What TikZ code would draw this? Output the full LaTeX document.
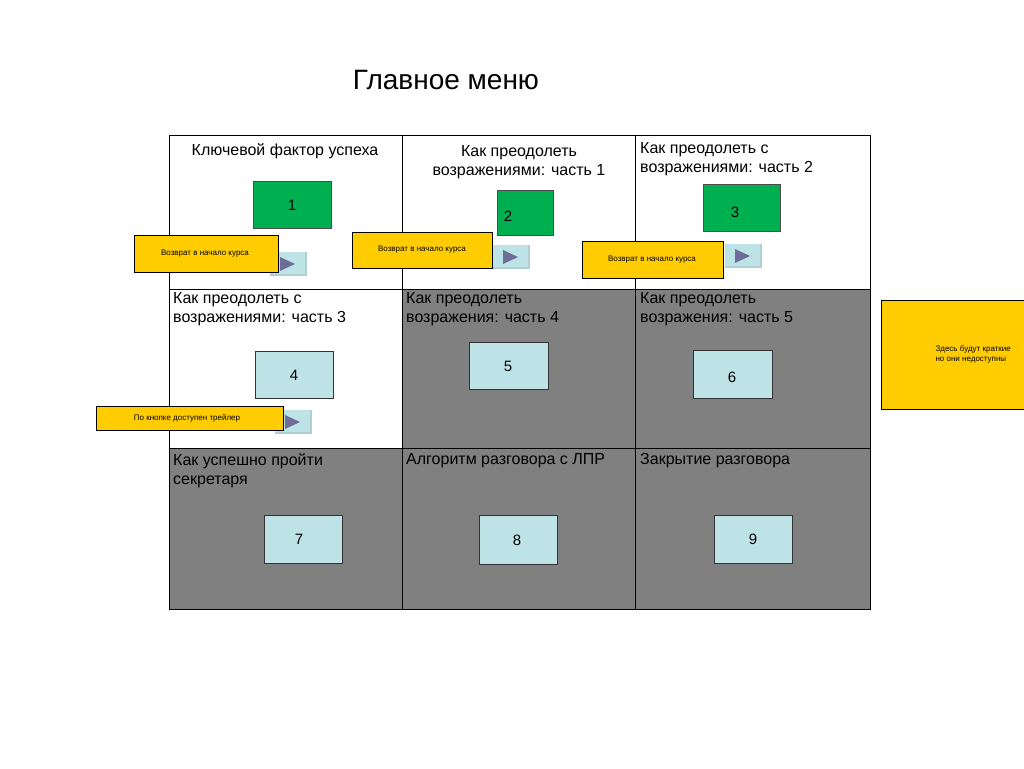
\documentclass[tikz,border=0pt]{standalone}
\usepackage{fontspec}
\setmainfont{Liberation Sans}
\begin{document}
\begin{tikzpicture}[x=1pt,y=-1pt,
  grn/.style={draw=black!70,fill=green!65!black!90,line width=0.6pt},
  blu/.style={draw=black!80,fill=cyan!15!blue!10!white,line width=0.6pt},
  ylw/.style={draw=black,fill=yellow!80!orange,line width=0.7pt},
  ttl/.style={font=\fontsize{16}{19}\selectfont,align=left,anchor=north west,inner sep=0},
  num/.style={font=\fontsize{15}{18}\selectfont},
  sml/.style={font=\fontsize{8}{10}\selectfont}]
\useasboundingbox (0,0) rectangle (1024,768);
\definecolor{gr}{HTML}{808080}
\definecolor{bl}{HTML}{BDE3E6}
\definecolor{gn}{HTML}{00B050}
\definecolor{yl}{HTML}{FFCC00}
\tikzset{grn/.append style={fill=gn},blu/.append style={fill=bl},ylw/.append style={fill=yl}}
\node[font=\fontsize{28}{32}\selectfont] (t) at (446,80) {Главное меню};
\fill[gr] (402,289) rectangle (870,448);
\fill[gr] (169,448) rectangle (870,609);
\draw[line width=0.8pt] (169,135) rectangle (870,609);
\draw (402,135) -- (402,609) (635,135) -- (635,609) (169,289) -- (870,289) (169,448) -- (870,448);
\node[font=\fontsize{16}{19}\selectfont] (h1) at (285,151) {Ключевой фактор успеха};
\node[font=\fontsize{16}{19}\selectfont,align=center] (h2) at (519,162) {Как преодолеть\\возражениями: часть 1};
\node[ttl] (h3) at (640,142) {Как преодолеть с\\возражениями: часть 2};
\node[ttl] (h4) at (173,292) {Как преодолеть с\\возражениями: часть 3};
\node[ttl] (h5) at (406,292) {Как преодолеть\\возражения: часть 4};
\node[ttl] (h6) at (640,292) {Как преодолеть\\возражения: часть 5};
\node[ttl] (h7) at (173,453) {Как успешно пройти\\секретаря};
\node[ttl] (h8) at (406,453) {Алгоритм разговора с ЛПР};
\node[ttl] (h9) at (640,453) {Закрытие разговора};
\draw[grn] (253,181) rectangle (331,228); \node[num] (n1) at (292,205) {1};
\draw[grn] (497,190) rectangle (553,235); \node[num] (n2) at (508,216) {2};
\draw[grn] (703,184) rectangle (780,231); \node[num] (n3) at (735,212) {3};
\draw[blu] (255,351) rectangle (333,398); \node[num] (n4) at (294,375) {4};
\draw[blu] (469,342) rectangle (548,389); \node[num] (n5) at (508,366) {5};
\draw[blu] (693,350) rectangle (772,398); \node[num] (n6) at (732,377) {6};
\draw[blu] (264,515) rectangle (342,563); \node[num] (n7) at (299,539) {7};
\draw[blu] (479,515) rectangle (557,564); \node[num] (n8) at (517,540) {8};
\draw[blu] (714,515) rectangle (792,563); \node[num] (n9) at (753,539) {9};
\foreach \x/\y in {270/252,493/245,725/244,275/410}{
  \fill[bl!80!gray] (\x,\y) rectangle ++(37,24);
  \fill[bl] (\x,\y) rectangle ++(35,22);
  \fill[gray!60!blue!60!black!70] (\x+10,\y+5) -- (\x+10,\y+19) -- (\x+25,\y+12) -- cycle;
}
\draw[ylw] (134,235) rectangle (278,272); \node[sml] (y1) at (205,254) {Возврат в начало курса};
\draw[ylw] (352,232) rectangle (492,268); \node[sml] (y2) at (422,250) {Возврат в начало курса};
\draw[ylw] (582,241) rectangle (723,278); \node[sml] (y3) at (652,260) {Возврат в начало курса};
\draw[ylw] (96,406) rectangle (283,430); \node[sml] (y4) at (187,418) {По кнопке доступен трейлер};
\draw[ylw] (881,300) rectangle (1030,409);
\node[sml,align=left,anchor=west] (y5) at (932,354) {Здесь будут краткие\\но они недоступны};
\end{tikzpicture}
\end{document}
